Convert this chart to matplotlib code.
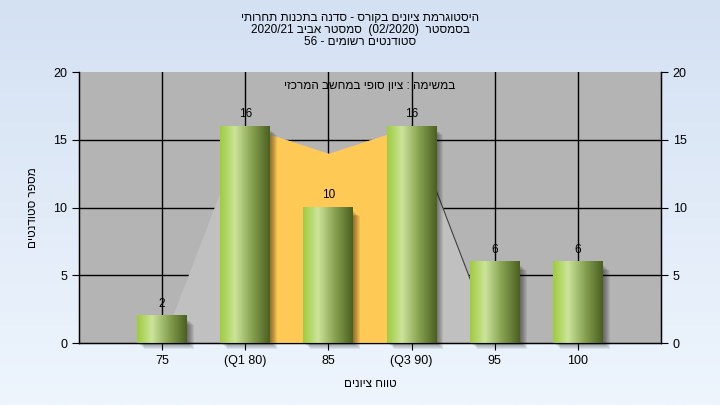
import numpy as np
import matplotlib
matplotlib.use("Agg")
import matplotlib.pyplot as plt
from matplotlib.colors import LinearSegmentedColormap
from matplotlib.patches import Rectangle

plt.rcParams['font.family'] = ['Liberation Sans', 'DejaVu Sans']

# data
categories = ['75', '(Q1 80)', '85', '(Q3 90)', '95', '100']
counts = [2, 16, 10, 16, 6, 6]
# background distribution area (gray) and the Q1-Q3 band (yellow)
area_vals = [0, 16, 14, 16, 0]
q1_idx, q3_idx = 1, 3


def rtl(s):
    # matplotlib has no bidi support: draw hebrew in visual order
    return s[::-1]


title_lines = [
    rtl("היסטוגרמת ציונים בקורס - סדנה בתכנות תחרותי"),
    "2020/21 " + rtl("סמסטר אביב") + "  (02/2020)  " + rtl("בסמסטר"),
    "56 - " + rtl("סטודנטים רשומים"),
]
subtitle = rtl("במשימה : ציון סופי במחשב המרכזי")
xlabel = rtl("טווח ציונים")
ylabel = rtl("מספר סטודנטים")

fig = plt.figure(figsize=(7.2, 4.05), dpi=100)

# figure background gradient
bg = fig.add_axes([0, 0, 1, 1], zorder=-10)
grad = np.linspace(0, 1, 256).reshape(-1, 1)
bg_cmap = LinearSegmentedColormap.from_list('bg', ['#d4e1f3', '#eef5fd'])
bg.imshow(grad, aspect='auto', cmap=bg_cmap, extent=[0, 1, 0, 1])
bg.axis('off')

ax = fig.add_axes([0.1097, 0.153, 0.8083, 0.669])
ax.set_facecolor('#b4b4b4')
x = np.arange(len(categories))

# grid behind everything
for yv in [5, 10, 15]:
    ax.axhline(yv, color='black', lw=1, zorder=1)
for xv in x:
    ax.axvline(xv, color='black', lw=1, zorder=1)

# gray area + yellow interquartile band
xa = x[:len(area_vals)]
ax.fill_between(xa, 0, area_vals, color='#c0c0c0', lw=0, zorder=2)
ax.fill_between(xa[q1_idx:q3_idx + 1], 0, area_vals[q1_idx:q3_idx + 1],
                color='#ffc955', lw=0, zorder=3)
ax.plot(xa[q3_idx:], area_vals[q3_idx:], color='#404040', lw=0.8, zorder=3)

# bars with horizontal gradient and soft shadow
bar_cmap = LinearSegmentedColormap.from_list(
    'bar', [(0, '#9fcc3e'), (0.3, '#cbe49a'), (0.65, '#86a050'), (1, '#4a6020')])
w = 0.6
px_x = 1 / 83.0    # one pixel in x data units
px_y = 20 / 271.0  # one pixel in y data units
hgrad = np.linspace(0, 1, 128).reshape(1, -1)
for xi, h in zip(x, counts):
    for k in range(1, 8):
        ax.add_patch(Rectangle((xi - w / 2 + k * px_x, -k * 0.8 * px_y), w,
                               h - 3 * px_y, color='black', alpha=0.07, lw=0,
                               zorder=4, clip_on=False))
    ax.imshow(hgrad, aspect='auto', cmap=bar_cmap,
              extent=[xi - w / 2, xi + w / 2, 0, h], zorder=5)
    ax.text(xi, h + 0.45, str(h), ha='center', va='bottom', fontsize=8.5, zorder=6)

ax.set_xlim(-1, len(categories))
ax.set_ylim(0, 20)
ax.set_xticks(x)
ax.set_xticklabels(categories, fontsize=9)
ax.set_yticks([0, 5, 10, 15, 20])
ax.tick_params(axis='y', labelsize=9, length=5, direction='out', color='black')
ax.tick_params(axis='x', length=5, direction='out')
ax.spines['top'].set_visible(False)
for s in ['left', 'right', 'bottom']:
    ax.spines[s].set_linewidth(1)

ax2 = ax.twinx()
ax2.set_ylim(0, 20)
ax2.set_yticks([0, 5, 10, 15, 20])
ax2.tick_params(axis='y', labelsize=9, length=5, direction='out')
ax2.spines['top'].set_visible(False)

ax.set_xlabel(xlabel, fontsize=8.5, labelpad=8)
ax.set_ylabel(ylabel, fontsize=8.5, labelpad=10)

ax.text(0.5, 0.95, subtitle, transform=ax.transAxes, ha='center', va='center',
        fontsize=8.5, zorder=7)
for i, line in enumerate(title_lines):
    fig.text(0.5, 1 - (18 + 12 * i) / 405, line, ha='center', va='center', fontsize=8.5)

fig.savefig('out.png', dpi=100)
